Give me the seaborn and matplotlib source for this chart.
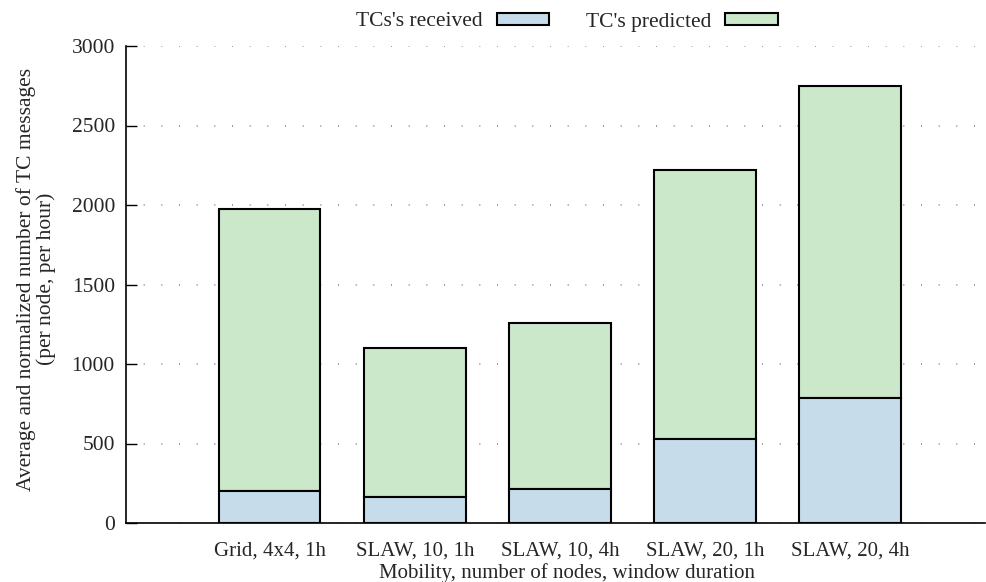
import matplotlib
matplotlib.use("Agg")
import matplotlib.pyplot as plt
import seaborn as sns
import pandas as pd
import numpy as np
from matplotlib.patches import Patch

categories = ["Grid, 4x4, 1h", "SLAW, 10, 1h", "SLAW, 10, 4h", "SLAW, 20, 1h", "SLAW, 20, 4h"]
received = [201, 164, 214, 528, 786]
predicted = [1774, 936, 1044, 1692, 1962]
yticks = [0, 500, 1000, 1500, 2000, 2500, 3000]

sns.set_theme(style="white")
plt.rcParams["font.family"] = ["Liberation Serif", "DejaVu Serif"]
FS = 15.5

df = pd.DataFrame({"cat": categories, "received": received, "predicted": predicted})

fig = plt.figure(figsize=(9.86, 5.82), dpi=100)
ax = fig.add_axes([126 / 986, 1 - 523 / 582, (985 - 126) / 986, (523 - 46) / 582])

blue = "#c6dceb"
green = "#cce8cb"

sns.barplot(data=df, x="cat", y="predicted", bottom=df["received"], color=green,
            edgecolor="black", linewidth=1.5, width=0.70, ax=ax, saturation=1, zorder=3)
sns.barplot(data=df, x="cat", y="received", color=blue,
            edgecolor="black", linewidth=1.5, width=0.70, ax=ax, saturation=1, zorder=3)

ax.set_xlim(-0.99, 4.93)
ax.set_ylim(0, 3000)
ax.set_yticks(yticks)
ax.set_yticklabels([str(v) for v in yticks], fontsize=FS)
ax.tick_params(axis="x", labelsize=15, length=0, pad=13)
ax.tick_params(axis="y", direction="in", length=8, width=1, color="black", left=True, pad=8)
for v in yticks:
    ax.axhline(v, color="#888888", linestyle=(0, (0.6, 10)), linewidth=1.2, zorder=1)

for s in ["top", "right"]:
    ax.spines[s].set_visible(False)
for s in ["left", "bottom"]:
    ax.spines[s].set_visible(True)
    ax.spines[s].set_color("black")
    ax.spines[s].set_linewidth(1.2)

ax.set_xlabel("Mobility, number of nodes, window duration", fontsize=15)
ax.xaxis.set_label_coords((567 - 126) / (985 - 126), -(573 - 523) / (523 - 46), transform=ax.transAxes)
ax.xaxis.label.set_va("center")
ax.set_ylabel("Average and normalized number of TC messages\n(per node, per hour)",
              fontsize=FS, linespacing=1.0)
ax.yaxis.set_label_coords(-(126 - 36) / (985 - 126), (523 - 279) / (523 - 46), transform=ax.transAxes)
ax.yaxis.label.set_va("center")

handles = [Patch(facecolor=blue, edgecolor="black", linewidth=1.5),
           Patch(facecolor=green, edgecolor="black", linewidth=1.5)]
fig.legend(handles, ["TCs's received", "TC's predicted"], loc="center",
           bbox_to_anchor=(567 / 986, 1 - 22 / 582), ncol=2, frameon=False,
           markerfirst=False, handlelength=2.45, handleheight=0.5,
           columnspacing=1.7, handletextpad=0.65, fontsize=FS)

fig.savefig("out.png", dpi=100)
